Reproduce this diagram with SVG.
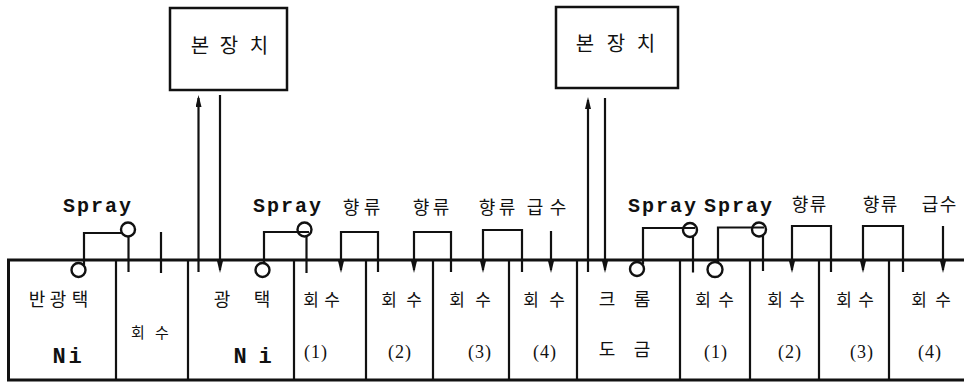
<svg xmlns="http://www.w3.org/2000/svg" width="964" height="384" viewBox="0 0 964 384">
<defs>
<style>
.ln{stroke:#111;stroke-width:2.2;fill:none;stroke-linecap:butt}
.tk{stroke:#111;stroke-width:3;fill:none}
.bx{stroke:#111;stroke-width:2.5;fill:#fff}
.ci{stroke:#111;stroke-width:2.4;fill:none}
.ko{font-family:"Noto Sans CJK KR",sans-serif;fill:#111;text-anchor:middle;font-size:17px}
.mono{font-family:"Liberation Mono",monospace;font-weight:bold;fill:#111}
.sp{font-size:20px;letter-spacing:2px}
.ni{font-size:22px;text-anchor:middle}
.pr{font-family:"Liberation Serif",serif;font-size:18px;fill:#111;text-anchor:middle;letter-spacing:1px}
</style>
<marker id="ah" viewBox="0 0 12 6" refX="9" refY="3" markerWidth="12" markerHeight="6" markerUnits="userSpaceOnUse" orient="auto-start-reverse">
<path d="M0,0 L12,3 L0,6 Z" fill="#111"/>
</marker>
</defs>
<rect width="964" height="384" fill="#fff"/>

<g id="box1">
<rect class="bx" x="170" y="8" width="117" height="82"/>
<text class="ko" style="font-size:20px" x="200 229 259" y="53">본장치</text>
</g>
<g id="box2">
<rect class="bx" x="556" y="7" width="122" height="81"/>
<text class="ko" style="font-size:20px" x="585 616 646" y="51">본장치</text>
</g>

<g id="tank">
<path class="tk" d="M964,260 H8.5 V380 H964"/>
<path class="ln" d="M116,260V380M188,260V380M294,260V380M366,260V380M433,260V380M509,260V380M577,260V380M680,260V380M750,260V380M819,260V380M889,260V380"/>
</g>

<g id="sec0"><text class="ko" style="font-size:18px" x="37 58 80" y="306">반광택</text><text class="mono ni" x="59 75" y="363">Ni</text></g>
<g id="sec1"><text class="ko" style="font-size:15px" x="138 162" y="338">회수</text></g>
<g id="sec2"><text class="ko" style="font-size:18px" x="222 262" y="306">광택</text><text class="mono ni" x="240 265" y="363">Ni</text></g>
<g id="sec3"><text class="ko" x="311 332" y="306">회수</text><text class="pr" x="316" y="358">(1)</text></g>
<g id="sec4"><text class="ko" x="389 414" y="306">회수</text><text class="pr" x="400" y="358">(2)</text></g>
<g id="sec5"><text class="ko" x="457 483" y="306">회수</text><text class="pr" x="480" y="358">(3)</text></g>
<g id="sec6"><text class="ko" x="531 557" y="306">회수</text><text class="pr" x="545" y="358">(4)</text></g>
<g id="sec7"><text class="ko" style="font-size:18px" x="607 642" y="306">크롬</text><text class="ko" style="font-size:18px" x="607 642" y="356">도금</text></g>
<g id="sec8"><text class="ko" x="703 726" y="306">회수</text><text class="pr" x="716" y="358">(1)</text></g>
<g id="sec9"><text class="ko" x="775 797" y="306">회수</text><text class="pr" x="790" y="358">(2)</text></g>
<g id="sec10"><text class="ko" x="844 866" y="306">회수</text><text class="pr" x="862" y="358">(3)</text></g>
<g id="sec11"><text class="ko" x="919 943" y="306">회수</text><text class="pr" x="930" y="358">(4)</text></g>

<g id="labels">
<text class="mono sp" x="63" y="212">Spray</text>
<text class="mono sp" x="253" y="212">Spray</text>
<text class="mono sp" x="628" y="212">Spray</text>
<text class="mono sp" x="704" y="212">Spray</text>
<text class="ko" style="font-size:18px" x="351 372" y="214">향류</text>
<text class="ko" style="font-size:18px" x="421 441" y="214">향류</text>
<text class="ko" style="font-size:18px" x="487 507" y="214">향류</text>
<text class="ko" style="font-size:18px" x="535 558" y="214">급수</text>
<text class="ko" style="font-size:18px" x="800 818" y="211">향류</text>
<text class="ko" style="font-size:18px" x="871 889" y="211">향류</text>
<text class="ko" style="font-size:18px" x="930 948" y="211">급수</text>
</g>

<g id="connectors">
<!-- main unit lines -->
<line class="ln" x1="198.5" y1="98" x2="198.5" y2="272" marker-start="url(#ah)"/>
<line class="ln" x1="220" y1="95" x2="220" y2="270" marker-end="url(#ah)"/>
<line class="ln" x1="588" y1="100" x2="588" y2="272" marker-start="url(#ah)"/>
<line class="ln" x1="605" y1="98" x2="605" y2="270" marker-end="url(#ah)"/>
<!-- spray 1 -->
<circle class="ci" cx="78.5" cy="270" r="7"/>
<circle class="ci" cx="128" cy="229.5" r="7"/>
<path class="ln" d="M84,265.5 V233 H123"/>
<path class="ln" d="M128.5,236.5 V272"/>
<line class="ln" x1="161" y1="232" x2="161" y2="273"/>
<!-- spray 2 -->
<circle class="ci" cx="262.5" cy="270" r="7"/>
<circle class="ci" cx="304.5" cy="229.5" r="7"/>
<path class="ln" d="M264,263 V232 H309"/>
<path class="ln" d="M306.5,236 V273"/>
<!-- counterflow brackets -->
<path class="ln" d="M378,272 V232 H341 V270" marker-end="url(#ah)"/>
<path class="ln" d="M451,272 V232 H414 V270" marker-end="url(#ah)"/>
<path class="ln" d="M522,272 V230 H483 V270" marker-end="url(#ah)"/>
<line class="ln" x1="551" y1="231" x2="551" y2="270" marker-end="url(#ah)"/>
<!-- spray 3 -->
<circle class="ci" cx="637" cy="269" r="7"/>
<circle class="ci" cx="690" cy="230" r="7"/>
<path class="ln" d="M643,264.5 V228 H695"/>
<path class="ln" d="M693,236.5 V272.5"/>
<!-- spray 4 -->
<circle class="ci" cx="715" cy="269.5" r="7.5"/>
<circle class="ci" cx="759" cy="229.5" r="7"/>
<path class="ln" d="M718,262.5 V227.5 H764"/>
<path class="ln" d="M763,236 V271"/>
<path class="ln" d="M831,272 V226 H792 V270" marker-end="url(#ah)"/>
<path class="ln" d="M903,272 V226 H863 V270" marker-end="url(#ah)"/>
<line class="ln" x1="943" y1="226" x2="943" y2="270" marker-end="url(#ah)"/>
</g>
</svg>
